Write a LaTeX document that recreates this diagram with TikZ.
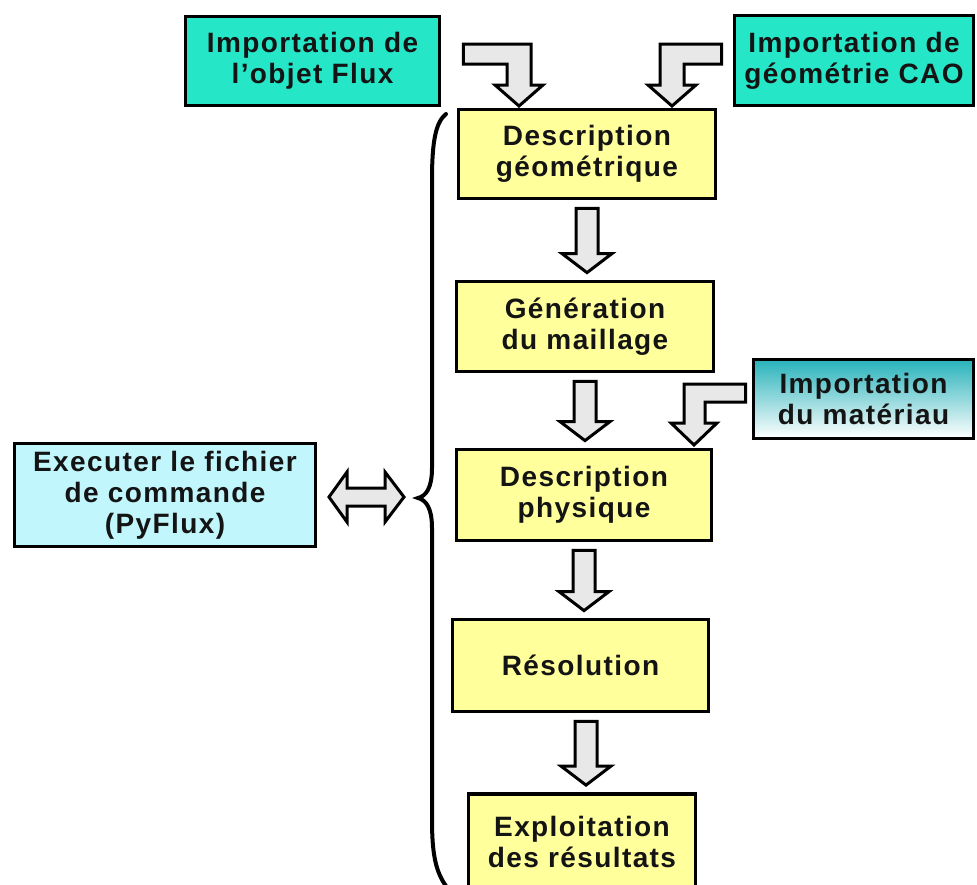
\documentclass[tikz,border=0pt]{standalone}
\usepackage{fontspec}
\setmainfont{Liberation Sans}[LetterSpace=5]
\usetikzlibrary{calc}

\definecolor{tealbox}{RGB}{38,230,200}
\definecolor{tealdark}{RGB}{40,178,186}
\definecolor{yellowbox}{RGB}{255,255,155}
\definecolor{cyanbox}{RGB}{192,246,252}
\definecolor{arrowgray}{RGB}{232,232,232}
\definecolor{inktext}{RGB}{20,20,20}

\tikzset{
  box/.style={draw=black, line width=3.8pt, inner sep=0pt, align=center,
    text=inktext, font=\bfseries\fontsize{28}{31}\selectfont},
  stepbox/.style={box, fill=yellowbox},
  importbox/.style={box, fill=tealbox},
  blockarrow/.style={draw=black, line width=3pt, fill=arrowgray, line join=miter},
  bracestroke/.style={draw=black, line width=4pt, line cap=round}
}

% straight block arrow from the bottom of one box to the top of the next
\newcommand\blkdown[3][0pt]{%
  \draw[blockarrow] let \p1=(#2.south), \p2=(#3.north) in
    ({\x1+#1-11pt},{\y1-8pt}) -- ({\x1+#1+11pt},{\y1-8pt})
    -- ({\x1+#1+11pt},{\y2+26pt}) -- ({\x1+#1+25pt},{\y2+26pt})
    -- ({\x1+#1},{\y2+7pt})
    -- ({\x1+#1-25pt},{\y2+26pt}) -- ({\x1+#1-11pt},{\y2+26pt}) -- cycle;}

\begin{document}
\begin{tikzpicture}[x=1pt,y=-1pt]
\useasboundingbox[fill=white] (0,0) rectangle (977,884);

% processing chain
\node[stepbox, minimum width=257pt, minimum height=89pt] (geo) at (587,154)
  {Description\\géométrique};
\node[stepbox, minimum width=257pt, minimum height=90pt] (mesh) at (585,326.5)
  {Génération\\du maillage};
\node[stepbox, minimum width=255pt, minimum height=91pt] (phys) at (584,495)
  {Description\\physique};
\node[stepbox, minimum width=256pt, minimum height=92pt] (solve) at (580.5,665.5)
  {Résolution};
\node[stepbox, minimum width=227pt, minimum height=96pt] (post) at (582,842)
  {Exploitation\\des résultats};

% imports
\node[importbox, minimum width=254pt, minimum height=89pt] (flux) at (312.5,61)
  {Importation de\\l’objet Flux};
\node[importbox, minimum width=239pt, minimum height=90pt] (cao) at (854,60.5)
  {Importation de\\géométrie CAO};
\node[box, top color=tealdark, bottom color=white, minimum width=220pt,
  minimum height=79pt] (mat) at (863.5,399)
  {Importation\\du matériau};

% command file
\node[box, fill=cyanbox, minimum width=301pt, minimum height=103pt] (cmd) at (165,495)
  {Executer le fichier\\de commande\\(PyFlux)};

% arrows down the chain
\blkdown{geo}{mesh}
\blkdown{mesh}{phys}
\blkdown{phys}{solve}
\blkdown[5.5pt]{solve}{post}

% bent arrows from the imports
\coordinate (fluxin) at (519,108);
\coordinate (caoin) at (672,108);
\coordinate (matin) at (694,448);
\draw[blockarrow] ($(flux.east)+(22,-17)$) -- (531,44) -- (531,85) -- (543,85)
  -- ($(fluxin)+(0,-2)$) -- (495,85) -- (507,85) -- (507,64) -- ($(flux.east)+(22,3)$) -- cycle;
\draw[blockarrow] ($(cao.west)+(-11,-16.5)$) -- (660,44) -- (660,85) -- (648,85)
  -- ($(caoin)+(0,-2)$) -- (696,85) -- (684,85) -- (684,64) -- ($(cao.west)+(-11,3.5)$) -- cycle;
\draw[blockarrow] ($(mat.west)+(-6,-15)$) -- (684,384) -- (684,423) -- (671,423)
  -- ($(matin)+(0,-3)$) -- (717,423) -- (705,423) -- (705,402) -- ($(mat.west)+(-6,3)$) -- cycle;

% brace embracing the chain
\coordinate (bracetip) at (418,498);
\draw[bracestroke] (446,114) .. controls (436,122) and (432,140) .. (432,180)
  -- (432,468) .. controls (432,488) and (426,496) .. (bracetip)
  .. controls (426,500) and (432,508) .. (432,528)
  -- (432,820) .. controls (432,855) and (436,872) .. (446,886);

% two-way arrow between the command file and the brace
\coordinate (dl) at (329,497);
\coordinate (dr) at (404,497);
\draw[blockarrow] (dl) -- (347,472) -- (347,488) -- (385,488) -- (385,472) -- (dr)
  -- (385,522) -- (385,506) -- (347,506) -- (347,522) -- cycle;
\end{tikzpicture}
\end{document}
